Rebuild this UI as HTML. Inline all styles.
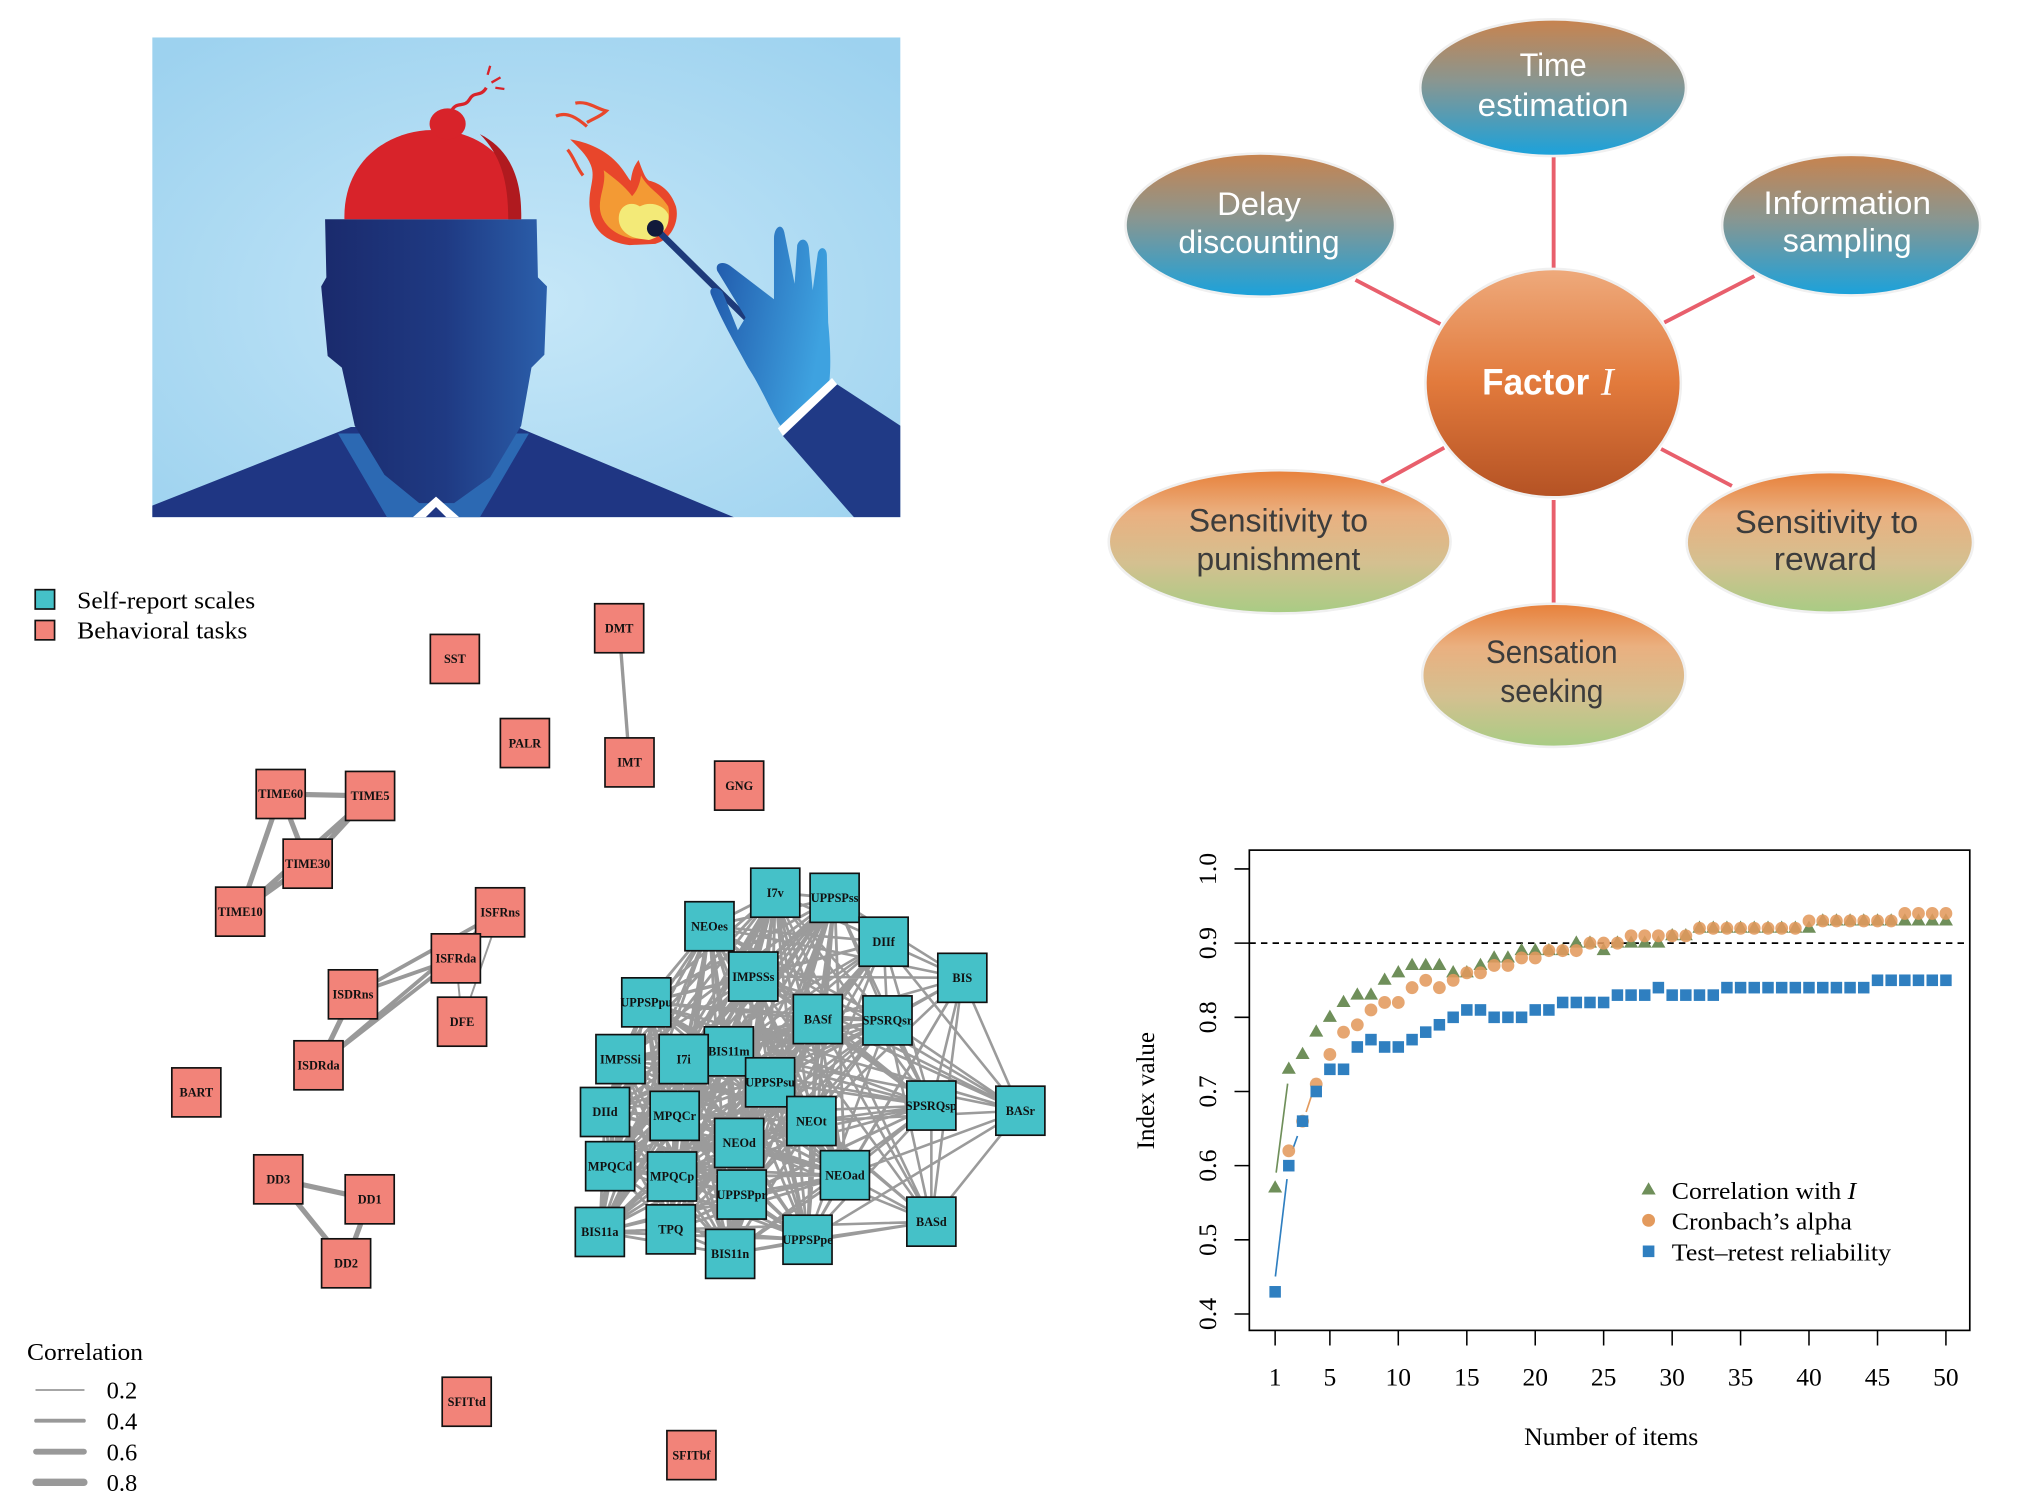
<!DOCTYPE html>
<html><head><meta charset="utf-8"><style>html,body{margin:0;padding:0;background:#fff}svg{display:block}
.r{fill:#f28379;stroke:#111;stroke-width:1.3}.c{fill:#45c1c8;stroke:#111;stroke-width:1.3}
.nl{font-family:"Liberation Serif",serif;font-weight:bold;font-size:9.5px;fill:#111;text-anchor:middle}
.sf{font-family:"Liberation Serif",serif;fill:#000}
.cal{font-family:"Liberation Sans",sans-serif;text-anchor:middle}
</style></head><body>
<svg width="2017" height="1499" viewBox="0 0 1563.6 1162" preserveAspectRatio="none" xmlns="http://www.w3.org/2000/svg">
<defs>
<radialGradient id="bg" cx="0.5" cy="0.55" r="0.7"><stop offset="0" stop-color="#c6e7f8"/><stop offset="1" stop-color="#9dd2ef"/></radialGradient>
<linearGradient id="face" x1="0" y1="0" x2="1" y2="0"><stop offset="0" stop-color="#1a2a6c"/><stop offset="0.55" stop-color="#1f3a83"/><stop offset="1" stop-color="#2b5fab"/></linearGradient>
<linearGradient id="glove" x1="0" y1="0" x2="1" y2="0.3"><stop offset="0" stop-color="#1f55a8"/><stop offset="1" stop-color="#3ea2e0"/></linearGradient>
<linearGradient id="gb" x1="0" y1="0" x2="0" y2="1"><stop offset="0" stop-color="#c8834e"/><stop offset="0.45" stop-color="#8a9690"/><stop offset="1" stop-color="#1aa2dc"/></linearGradient>
<linearGradient id="gf" x1="0" y1="0" x2="0" y2="1"><stop offset="0" stop-color="#eeaa7c"/><stop offset="0.5" stop-color="#e27a3c"/><stop offset="1" stop-color="#b45224"/></linearGradient>
<linearGradient id="gg" x1="0" y1="0" x2="0" y2="1"><stop offset="0" stop-color="#e8803a"/><stop offset="0.3" stop-color="#eab080"/><stop offset="0.65" stop-color="#d4c090"/><stop offset="1" stop-color="#a8cc84"/></linearGradient>
<clipPath id="pc"><rect x="118" y="29" width="580" height="372"/></clipPath>
</defs>

<!-- Picture -->
<g clip-path="url(#pc)">
<rect x="118" y="29" width="580" height="372" fill="url(#bg)"/>
<polygon points="118,401 118,392 272,331 401,331 569,401" fill="#1f3683"/>
<polygon points="262,336 300,401 372,401 410,336" fill="#2c69b3"/>
<path d="M252 170 L416 170 L417 215 L424 222 L422 275 L412 285 L404 330 L380 370 L352 390 L325 390 L298 368 L275 330 L265 285 L254 276 L249 222 L253 215 Z" fill="url(#face)"/>
<polygon points="320,401 338,385 356,401" fill="#fff"/>
<polygon points="330,401 338,393 346,401" fill="#1f3683"/>
<path d="M267 170 C266 128 296 104 330 101 C372 98 404 126 404 170 Z" fill="#d8232a"/>
<path d="M372 104 C396 116 405 140 404 170 L394 170 C394 140 388 120 372 104 Z" fill="#b01a1f"/>
<ellipse cx="347" cy="96" rx="14" ry="12" fill="#d8232a"/>
<path d="M350 86 C354 78 360 84 364 77 C368 70 372 76 377 68" stroke="#d8232a" stroke-width="2.5" fill="none"/>
<path d="M381 64 L388 60 M378 58 L380 51 M384 68 L391 69" stroke="#d8232a" stroke-width="1.8"/>
<path d="M488 190 C470 188 458 178 457 160 C456 146 462 138 458 128 C455 120 448 114 442 108 C455 110 470 116 480 128 C485 134 488 140 489 140 C490 132 492 128 495 124 C498 132 500 138 503 140 C512 142 520 148 524 160 C527 172 520 186 508 189 Z" fill="#e8462b"/>
<path d="M490 185 C475 182 465 172 465 160 C465 150 470 142 468 132 C476 138 484 144 490 152 C494 148 496 142 497 136 C502 146 512 150 518 160 C521 172 514 182 505 185 Z" fill="#f39a34"/>
<path d="M495 185 C485 183 478 176 480 166 C482 158 490 156 496 160 C503 156 514 158 518 166 C520 176 512 184 503 186 Z" fill="#f3ea78"/>
<path d="M431 90 C440 86 448 92 455 98 M446 80 C455 78 462 84 470 86 C466 90 460 92 455 95 M440 116 C445 122 447 130 452 136" stroke="#e8462b" stroke-width="2.5" fill="none"/>
<line x1="508" y1="177" x2="579" y2="247" stroke="#1d3a7a" stroke-width="5"/>
<circle cx="508" cy="177" r="6.5" fill="#111a3a"/>
<path d="M551 228 C549 222 556 222 560 226 L572 256 L578 246 L556 210 C554 204 560 202 566 206 L600 232 L600 185 C600 176 606 172 608 180 L616 220 L618 190 C620 184 626 184 627 192 L630 225 L634 196 C636 190 641 192 641 198 L642 250 C644 270 644 285 643 295 L605 330 C598 320 590 300 580 285 C572 270 560 250 551 228 Z" fill="url(#glove)"/>
<polygon points="603,332 645,293 649,298 607,338" fill="#fff"/>
<polygon points="607,338 649,298 698,330 698,401 662,401" fill="#203a86"/>
</g>

<!-- Factor diagram -->
<g stroke="#e85f6c" stroke-width="3">
<line x1="1204.4" y1="120" x2="1204.4" y2="209"/>
<line x1="1050.8" y1="217" x2="1116.6" y2="251.2"/>
<line x1="1360" y1="214" x2="1290.2" y2="250"/>
<line x1="1070.7" y1="374" x2="1119.6" y2="347"/>
<line x1="1342.6" y1="376.7" x2="1287.7" y2="348"/>
<line x1="1204.4" y1="387.6" x2="1204.4" y2="468"/>
</g>
<g stroke="#f0f0f0" stroke-width="2">
<ellipse cx="1204" cy="68" rx="103" ry="53" fill="url(#gb)"/>
<ellipse cx="977" cy="174.5" rx="104.5" ry="55.5" fill="url(#gb)"/>
<ellipse cx="1435" cy="174.5" rx="100" ry="54.5" fill="url(#gb)"/>
<ellipse cx="1204" cy="297" rx="99" ry="88.5" fill="url(#gf)"/>
<ellipse cx="992" cy="420" rx="132.5" ry="55.5" fill="url(#gg)"/>
<ellipse cx="1418.5" cy="420.5" rx="111" ry="54.5" fill="url(#gg)"/>
<ellipse cx="1204.5" cy="523.5" rx="102" ry="55.5" fill="url(#gg)"/>
</g>
<g class="cal" font-size="25" fill="#fff">
<text x="1204" y="59" textLength="52" lengthAdjust="spacingAndGlyphs">Time</text>
<text x="1204" y="90" textLength="117" lengthAdjust="spacingAndGlyphs">estimation</text>
<text x="976" y="166.5" textLength="65" lengthAdjust="spacingAndGlyphs">Delay</text>
<text x="976" y="196" textLength="125" lengthAdjust="spacingAndGlyphs">discounting</text>
<text x="1432" y="166" textLength="130" lengthAdjust="spacingAndGlyphs">Information</text>
<text x="1432" y="195" textLength="100" lengthAdjust="spacingAndGlyphs">sampling</text>
</g>
<g class="cal" font-size="25" fill="#3c3c3c">
<text x="991" y="412" textLength="139" lengthAdjust="spacingAndGlyphs">Sensitivity to</text>
<text x="991" y="442" textLength="127" lengthAdjust="spacingAndGlyphs">punishment</text>
<text x="1416" y="413" textLength="142" lengthAdjust="spacingAndGlyphs">Sensitivity to</text>
<text x="1415" y="442" textLength="80" lengthAdjust="spacingAndGlyphs">reward</text>
<text x="1203" y="514" textLength="102" lengthAdjust="spacingAndGlyphs">Sensation</text>
<text x="1203" y="544" textLength="80" lengthAdjust="spacingAndGlyphs">seeking</text>
</g>
<text x="1149" y="306" font-family="Liberation Sans, sans-serif" font-weight="bold" font-size="29" fill="#fff" textLength="83" lengthAdjust="spacingAndGlyphs">Factor</text>
<text x="1241" y="306" font-family="Liberation Serif, serif" font-style="italic" font-size="30" fill="#fff">I</text>

<!-- Network legend -->
<rect x="27.3" y="457.1" width="15" height="15" class="c"/>
<rect x="27.3" y="481" width="15" height="15" class="r"/>
<text x="59.8" y="471.6" class="sf" font-size="19" textLength="138" lengthAdjust="spacingAndGlyphs">Self-report scales</text>
<text x="59.8" y="495" class="sf" font-size="19" textLength="132" lengthAdjust="spacingAndGlyphs">Behavioral tasks</text>
<text x="20.9" y="1054.3" class="sf" font-size="19" textLength="90" lengthAdjust="spacingAndGlyphs">Correlation</text>
<g stroke="#999" stroke-linecap="round">
<line x1="28" y1="1077.5" x2="65" y2="1077.5" stroke-width="1.3"/>
<line x1="28" y1="1101.3" x2="65" y2="1101.3" stroke-width="3"/>
<line x1="28" y1="1125.3" x2="65" y2="1125.3" stroke-width="4.6"/>
<line x1="28" y1="1149.1" x2="65" y2="1149.1" stroke-width="5.7"/>
</g>
<g class="sf" font-size="19">
<text x="82.7" y="1084">0.2</text><text x="82.7" y="1108">0.4</text><text x="82.7" y="1132">0.6</text><text x="82.7" y="1156">0.8</text>
</g>

<!-- Network edges (behavioral) -->
<g stroke="#999" fill="none">
<path stroke-width="4" d="M217.6 615.5L286.9 617M217.6 615.5L238.5 669.5M217.6 615.5L186.2 706.7M286.9 617L238.5 669.5M186.2 706.7L238.5 669.5M186.2 706.7L286.9 617"/>
<path stroke-width="3" d="M387.7 707.2L273.6 770.8M353.4 742.9L273.6 770.8M387.7 707.2L246.9 825.8M353.4 742.9L246.9 825.8M387.7 707.2L353.4 742.9"/>
<path stroke-width="4" d="M273.6 770.8L246.9 825.8M215.7 914.2L286.6 929.7M215.7 914.2L268.3 979.3M286.6 929.7L268.3 979.3"/>
<path stroke-width="1.5" d="M353.4 742.9L358.2 792M387.7 707.2L358.2 792"/>
<path stroke-width="2.6" d="M480 487L488 591"/>
</g>
<!-- Network edges (self-report) -->
<g stroke="#9b9b9b" fill="none" stroke-width="2.2">
<path d="M601 692L647 696M601 692L550 718M601 692L584 757M601 692L501 777M601 692L634 790M601 692L481 821M601 692L530 821M601 692L565 815M601 692L597 839M601 692L469 862M601 692L523 865M601 692L629 869M601 692L573 886M601 692L473 904M601 692L521 912M601 692L655 911M601 692L575 926M601 692L465 955M601 692L520 953M601 692L626 961M601 692L566 972
M647 696L550 718M647 696L584 757M647 696L501 777M647 696L634 790M647 696L481 821M647 696L530 821M647 696L565 815M647 696L597 839M647 696L469 862M647 696L523 865M647 696L629 869M647 696L573 886M647 696L473 904M647 696L521 912M647 696L655 911M647 696L575 926M647 696L465 955M647 696L520 953M647 696L626 961M647 696L566 972
M550 718L584 757M550 718L501 777M550 718L634 790M550 718L481 821M550 718L530 821M550 718L565 815M550 718L597 839M550 718L469 862M550 718L523 865M550 718L629 869M550 718L573 886M550 718L473 904M550 718L521 912M550 718L655 911M550 718L575 926M550 718L465 955M550 718L520 953M550 718L626 961M550 718L566 972
M584 757L501 777M584 757L634 790M584 757L481 821M584 757L530 821M584 757L565 815M584 757L597 839M584 757L469 862M584 757L523 865M584 757L629 869M584 757L573 886M584 757L473 904M584 757L521 912M584 757L655 911M584 757L575 926M584 757L465 955M584 757L520 953M584 757L626 961M584 757L566 972
M501 777L634 790M501 777L481 821M501 777L530 821M501 777L565 815M501 777L597 839M501 777L469 862M501 777L523 865M501 777L629 869M501 777L573 886M501 777L473 904M501 777L521 912M501 777L655 911M501 777L575 926M501 777L465 955M501 777L520 953M501 777L626 961M501 777L566 972
M634 790L481 821M634 790L530 821M634 790L565 815M634 790L597 839M634 790L469 862M634 790L523 865M634 790L629 869M634 790L573 886M634 790L473 904M634 790L521 912M634 790L655 911M634 790L575 926M634 790L465 955M634 790L520 953M634 790L626 961M634 790L566 972
M481 821L530 821M481 821L565 815M481 821L597 839M481 821L469 862M481 821L523 865M481 821L629 869M481 821L573 886M481 821L473 904M481 821L521 912M481 821L655 911M481 821L575 926M481 821L465 955M481 821L520 953M481 821L626 961M481 821L566 972
M530 821L565 815M530 821L597 839M530 821L469 862M530 821L523 865M530 821L629 869M530 821L573 886M530 821L473 904M530 821L521 912M530 821L655 911M530 821L575 926M530 821L465 955M530 821L520 953M530 821L626 961M530 821L566 972
M565 815L597 839M565 815L469 862M565 815L523 865M565 815L629 869M565 815L573 886M565 815L473 904M565 815L521 912M565 815L655 911M565 815L575 926M565 815L465 955M565 815L520 953M565 815L626 961M565 815L566 972
M597 839L469 862M597 839L523 865M597 839L629 869M597 839L573 886M597 839L473 904M597 839L521 912M597 839L655 911M597 839L575 926M597 839L465 955M597 839L520 953M597 839L626 961M597 839L566 972
M469 862L523 865M469 862L629 869M469 862L573 886M469 862L473 904M469 862L521 912M469 862L655 911M469 862L575 926M469 862L465 955M469 862L520 953M469 862L626 961M469 862L566 972
M523 865L629 869M523 865L573 886M523 865L473 904M523 865L521 912M523 865L655 911M523 865L575 926M523 865L465 955M523 865L520 953M523 865L626 961M523 865L566 972
M629 869L573 886M629 869L473 904M629 869L521 912M629 869L655 911M629 869L575 926M629 869L465 955M629 869L520 953M629 869L626 961M629 869L566 972
M573 886L473 904M573 886L521 912M573 886L655 911M573 886L575 926M573 886L465 955M573 886L520 953M573 886L626 961M573 886L566 972
M473 904L521 912M473 904L655 911M473 904L575 926M473 904L465 955M473 904L520 953M473 904L626 961M473 904L566 972
M521 912L655 911M521 912L575 926M521 912L465 955M521 912L520 953M521 912L626 961M521 912L566 972
M655 911L575 926M655 911L465 955M655 911L520 953M655 911L626 961M655 911L566 972
M575 926L465 955M575 926L520 953M575 926L626 961M575 926L566 972
M465 955L520 953M465 955L626 961M465 955L566 972M520 953L626 961M520 953L566 972M626 961L566 972"/>
<path stroke-width="2" d="M685 730L601 692M685 730L647 696M685 730L550 718M685 730L584 757M685 730L501 777M685 730L634 790M685 730L530 821M685 730L565 815M685 730L597 839M685 730L523 865M685 730L629 869M685 730L573 886M685 730L521 912M685 730L575 926M685 730L520 953M685 730L688 791M685 730L722 857M685 730L746 758M685 730L791 861
M688 791L601 692M688 791L647 696M688 791L550 718M688 791L584 757M688 791L501 777M688 791L634 790M688 791L481 821M688 791L530 821M688 791L565 815M688 791L597 839M688 791L469 862M688 791L523 865M688 791L629 869M688 791L573 886M688 791L521 912M688 791L575 926M688 791L520 953M688 791L626 961M688 791L722 857M688 791L746 758M688 791L791 861M688 791L722 947
M722 857L601 692M722 857L647 696M722 857L550 718M722 857L584 757M722 857L501 777M722 857L634 790M722 857L530 821M722 857L565 815M722 857L597 839M722 857L523 865M722 857L629 869M722 857L573 886M722 857L521 912M722 857L655 911M722 857L575 926M722 857L520 953M722 857L626 961M722 857L566 972M722 857L746 758M722 857L722 947
M746 758L647 696M746 758L584 757M746 758L634 790M746 758L597 839M746 758L629 869M746 758L655 911M746 758L626 961M746 758L791 861M746 758L722 947M746 758L550 718
M791 861L550 718M791 861L584 757M791 861L634 790M791 861L565 815M791 861L629 869M791 861L655 911M791 861L626 961M791 861L722 947M791 861L501 777
M722 947L601 692M722 947L584 757M722 947L634 790M722 947L565 815M722 947L597 839M722 947L629 869M722 947L573 886M722 947L655 911M722 947L520 953M722 947L626 961M722 947L566 972"/>
</g>

<!-- Behavioral nodes -->
<g>
<rect x="333.6" y="491.8" width="38" height="38" class="r"/><text x="352.6" y="514.1" class="nl">SST</text>
<rect x="461" y="468" width="38" height="38" class="r"/><text x="480" y="490.3" class="nl">DMT</text>
<rect x="387.9" y="557" width="38" height="38" class="r"/><text x="406.9" y="579.3" class="nl">PALR</text>
<rect x="469" y="572" width="38" height="38" class="r"/><text x="488" y="594.3" class="nl">IMT</text>
<rect x="554" y="590" width="38" height="38" class="r"/><text x="573" y="612.3" class="nl">GNG</text>
<rect x="198.6" y="596.5" width="38" height="38" class="r"/><text x="217.6" y="618.8" class="nl">TIME60</text>
<rect x="267.9" y="598" width="38" height="38" class="r"/><text x="286.9" y="620.3" class="nl">TIME5</text>
<rect x="219.5" y="650.5" width="38" height="38" class="r"/><text x="238.5" y="672.8" class="nl">TIME30</text>
<rect x="167.2" y="687.7" width="38" height="38" class="r"/><text x="186.2" y="710" class="nl">TIME10</text>
<rect x="368.7" y="688.2" width="38" height="38" class="r"/><text x="387.7" y="710.5" class="nl">ISFRns</text>
<rect x="334.4" y="723.9" width="38" height="38" class="r"/><text x="353.4" y="746.2" class="nl">ISFRda</text>
<rect x="254.6" y="751.8" width="38" height="38" class="r"/><text x="273.6" y="774.1" class="nl">ISDRns</text>
<rect x="339.2" y="773" width="38" height="38" class="r"/><text x="358.2" y="795.3" class="nl">DFE</text>
<rect x="227.9" y="806.8" width="38" height="38" class="r"/><text x="246.9" y="829.1" class="nl">ISDRda</text>
<rect x="133.2" y="827.8" width="38" height="38" class="r"/><text x="152.2" y="850.1" class="nl">BART</text>
<rect x="196.7" y="895.2" width="38" height="38" class="r"/><text x="215.7" y="917.5" class="nl">DD3</text>
<rect x="267.6" y="910.7" width="38" height="38" class="r"/><text x="286.6" y="933" class="nl">DD1</text>
<rect x="249.3" y="960.3" width="38" height="38" class="r"/><text x="268.3" y="982.6" class="nl">DD2</text>
<rect x="342.8" y="1067.6" width="38" height="38" class="r"/><text x="361.8" y="1089.9" class="nl">SFITtd</text>
<rect x="517" y="1109" width="38" height="38" class="r"/><text x="536" y="1131.3" class="nl">SFITbf</text>
</g>
<!-- Self-report nodes -->
<g>
<rect x="582" y="673" width="38" height="38" class="c"/><text x="601" y="695.3" class="nl">I7v</text>
<rect x="628" y="677" width="38" height="38" class="c"/><text x="647" y="699.3" class="nl">UPPSPss</text>
<rect x="531" y="699" width="38" height="38" class="c"/><text x="550" y="721.3" class="nl">NEOes</text>
<rect x="666" y="711" width="38" height="38" class="c"/><text x="685" y="733.3" class="nl">DIIf</text>
<rect x="727" y="739" width="38" height="38" class="c"/><text x="746" y="761.3" class="nl">BIS</text>
<rect x="565" y="738" width="38" height="38" class="c"/><text x="584" y="760.3" class="nl">IMPSSs</text>
<rect x="482" y="758" width="38" height="38" class="c"/><text x="501" y="780.3" class="nl">UPPSPpu</text>
<rect x="615" y="771" width="38" height="38" class="c"/><text x="634" y="793.3" class="nl">BASf</text>
<rect x="669" y="772" width="38" height="38" class="c"/><text x="688" y="794.3" class="nl">SPSRQsr</text>
<rect x="462" y="802" width="38" height="38" class="c"/><text x="481" y="824.3" class="nl">IMPSSi</text>
<rect x="546" y="796" width="38" height="38" class="c"/><text x="565" y="818.3" class="nl">BIS11m</text>
<rect x="511" y="802" width="38" height="38" class="c"/><text x="530" y="824.3" class="nl">I7i</text>
<rect x="578" y="820" width="38" height="38" class="c"/><text x="597" y="842.3" class="nl">UPPSPsu</text>
<rect x="450" y="843" width="38" height="38" class="c"/><text x="469" y="865.3" class="nl">DIId</text>
<rect x="504" y="846" width="38" height="38" class="c"/><text x="523" y="868.3" class="nl">MPQCr</text>
<rect x="610" y="850" width="38" height="38" class="c"/><text x="629" y="872.3" class="nl">NEOt</text>
<rect x="703" y="838" width="38" height="38" class="c"/><text x="722" y="860.3" class="nl">SPSRQsp</text>
<rect x="772" y="842" width="38" height="38" class="c"/><text x="791" y="864.3" class="nl">BASr</text>
<rect x="554" y="867" width="38" height="38" class="c"/><text x="573" y="889.3" class="nl">NEOd</text>
<rect x="454" y="885" width="38" height="38" class="c"/><text x="473" y="907.3" class="nl">MPQCd</text>
<rect x="502" y="893" width="38" height="38" class="c"/><text x="521" y="915.3" class="nl">MPQCp</text>
<rect x="636" y="892" width="38" height="38" class="c"/><text x="655" y="914.3" class="nl">NEOad</text>
<rect x="556" y="907" width="38" height="38" class="c"/><text x="575" y="929.3" class="nl">UPPSPpr</text>
<rect x="703" y="928" width="38" height="38" class="c"/><text x="722" y="950.3" class="nl">BASd</text>
<rect x="446" y="936" width="38" height="38" class="c"/><text x="465" y="958.3" class="nl">BIS11a</text>
<rect x="501" y="934" width="38" height="38" class="c"/><text x="520" y="956.3" class="nl">TPQ</text>
<rect x="607" y="942" width="38" height="38" class="c"/><text x="626" y="964.3" class="nl">UPPSPpe</text>
<rect x="547" y="953" width="38" height="38" class="c"/><text x="566" y="975.3" class="nl">BIS11n</text>
</g>

<!-- Chart -->
<line x1="968.5" y1="731.1" x2="1527" y2="731.1" stroke="#000" stroke-width="1.3" stroke-dasharray="5 4"/>
<rect x="968.5" y="659" width="558.5" height="372.3" fill="none" stroke="#000" stroke-width="1.3"/>
<path d="M957 1018.6H968.5M957 961.1H968.5M957 903.6H968.5M957 846.1H968.5M957 788.6H968.5M957 731.1H968.5M957 673.6H968.5" stroke="#000" stroke-width="1.2"/>
<g class="sf" font-size="20" text-anchor="middle">
<text transform="translate(942.5 1018.6) rotate(-90)">0.4</text>
<text transform="translate(942.5 961.1) rotate(-90)">0.5</text>
<text transform="translate(942.5 903.6) rotate(-90)">0.6</text>
<text transform="translate(942.5 846.1) rotate(-90)">0.7</text>
<text transform="translate(942.5 788.6) rotate(-90)">0.8</text>
<text transform="translate(942.5 731.1) rotate(-90)">0.9</text>
<text transform="translate(942.5 673.6) rotate(-90)">1.0</text>
<text transform="translate(894.5 845.5) rotate(-90)" textLength="91" lengthAdjust="spacingAndGlyphs">Index value</text>
<text x="1249" y="1120" textLength="135" lengthAdjust="spacingAndGlyphs">Number of items</text>
</g>
<g transform="matrix(0.98935 0 0 1 8.35 0)">
<path stroke="#000" stroke-width="1.2" d="M990.7 1031.3V1043M1033.6 1031.3V1043M1087.2 1031.3V1043M1140.9 1031.3V1043M1194.5 1031.3V1043M1248.1 1031.3V1043M1301.8 1031.3V1043M1355.4 1031.3V1043M1409 1031.3V1043M1462.7 1031.3V1043M1516.3 1031.3V1043"/>
<g class="sf" font-size="20" text-anchor="middle">
<text x="990.7" y="1074">1</text><text x="1033.6" y="1074">5</text><text x="1087.2" y="1074">10</text><text x="1140.9" y="1074">15</text><text x="1194.5" y="1074">20</text><text x="1248.1" y="1074">25</text><text x="1301.8" y="1074">30</text><text x="1355.4" y="1074">35</text><text x="1409" y="1074">40</text><text x="1462.7" y="1074">45</text><text x="1516.3" y="1074">50</text>
</g>
<g stroke-width="1.3" fill="none">
<line x1="991.5" y1="909" x2="1000.5" y2="840" stroke="#6f8f5a"/>
<line x1="990.9" y1="989.5" x2="1000" y2="914" stroke="#2f7fc0"/>
<line x1="1004.6" y1="890.6" x2="1008.2" y2="880.6" stroke="#2f7fc0"/>
<line x1="1015" y1="862" x2="1019" y2="850" stroke="#e39a5d"/>
</g>
<!-- green triangles -->
<g fill="#6f8f5a">
<path d="M990.7 914.9l5.5 9.5h-11zM1001.4 822.9l5.5 9.5h-11zM1012.2 811.4l5.5 9.5h-11zM1022.9 794.1l5.5 9.5h-11zM1033.6 782.6l5.5 9.5h-11zM1044.3 771.1l5.5 9.5h-11zM1055.1 765.4l5.5 9.5h-11zM1065.8 765.4l5.5 9.5h-11zM1076.5 753.9l5.5 9.5h-11zM1087.2 748.1l5.5 9.5h-11zM1098 742.4l5.5 9.5h-11zM1108.7 742.4l5.5 9.5h-11zM1119.4 742.4l5.5 9.5h-11zM1130.2 748.1l5.5 9.5h-11zM1140.9 748.1l5.5 9.5h-11zM1151.6 742.4l5.5 9.5h-11zM1162.3 736.6l5.5 9.5h-11zM1173.1 736.6l5.5 9.5h-11zM1183.8 730.9l5.5 9.5h-11zM1194.5 730.9l5.5 9.5h-11zM1205.2 730.9l5.5 9.5h-11zM1216 730.9l5.5 9.5h-11zM1226.7 725.1l5.5 9.5h-11zM1237.4 725.1l5.5 9.5h-11zM1248.1 730.9l5.5 9.5h-11zM1258.9 725.1l5.5 9.5h-11zM1269.6 725.1l5.5 9.5h-11zM1280.3 725.1l5.5 9.5h-11zM1291 725.1l5.5 9.5h-11zM1301.8 719.4l5.5 9.5h-11zM1312.5 719.4l5.5 9.5h-11zM1323.2 713.6l5.5 9.5h-11zM1334 713.6l5.5 9.5h-11zM1344.7 713.6l5.5 9.5h-11zM1355.4 713.6l5.5 9.5h-11zM1366.1 713.6l5.5 9.5h-11zM1376.9 713.6l5.5 9.5h-11zM1387.6 713.6l5.5 9.5h-11zM1398.3 713.6l5.5 9.5h-11zM1409 713.6l5.5 9.5h-11zM1419.8 707.9l5.5 9.5h-11zM1430.5 707.9l5.5 9.5h-11zM1441.2 707.9l5.5 9.5h-11zM1451.9 707.9l5.5 9.5h-11zM1462.7 707.9l5.5 9.5h-11zM1473.4 707.9l5.5 9.5h-11zM1484.1 707.9l5.5 9.5h-11zM1494.8 707.9l5.5 9.5h-11zM1505.6 707.9l5.5 9.5h-11zM1516.3 707.9l5.5 9.5h-11z"/>
</g>
<!-- orange circles -->
<g fill="#e39a5d" fill-opacity="0.88">
<circle cx="1001.4" cy="892.1" r="5"/><circle cx="1012.2" cy="869.1" r="5"/><circle cx="1022.9" cy="840.4" r="5"/><circle cx="1033.6" cy="817.4" r="5"/><circle cx="1044.3" cy="800.1" r="5"/><circle cx="1055.1" cy="794.4" r="5"/><circle cx="1065.8" cy="782.9" r="5"/><circle cx="1076.5" cy="777.1" r="5"/><circle cx="1087.2" cy="777.1" r="5"/><circle cx="1098" cy="765.6" r="5"/><circle cx="1108.7" cy="759.9" r="5"/><circle cx="1119.4" cy="765.6" r="5"/><circle cx="1130.2" cy="759.9" r="5"/><circle cx="1140.9" cy="754.1" r="5"/><circle cx="1151.6" cy="754.1" r="5"/><circle cx="1162.3" cy="748.4" r="5"/><circle cx="1173.1" cy="748.4" r="5"/><circle cx="1183.8" cy="742.6" r="5"/><circle cx="1194.5" cy="742.6" r="5"/><circle cx="1205.2" cy="736.9" r="5"/><circle cx="1216" cy="736.9" r="5"/><circle cx="1226.7" cy="736.9" r="5"/><circle cx="1237.4" cy="731.1" r="5"/><circle cx="1248.1" cy="731.1" r="5"/><circle cx="1258.9" cy="731.1" r="5"/><circle cx="1269.6" cy="725.4" r="5"/><circle cx="1280.3" cy="725.4" r="5"/><circle cx="1291" cy="725.4" r="5"/><circle cx="1301.8" cy="725.4" r="5"/><circle cx="1312.5" cy="725.4" r="5"/><circle cx="1323.2" cy="719.6" r="5"/><circle cx="1334" cy="719.6" r="5"/><circle cx="1344.7" cy="719.6" r="5"/><circle cx="1355.4" cy="719.6" r="5"/><circle cx="1366.1" cy="719.6" r="5"/><circle cx="1376.9" cy="719.6" r="5"/><circle cx="1387.6" cy="719.6" r="5"/><circle cx="1398.3" cy="719.6" r="5"/><circle cx="1409" cy="713.9" r="5"/><circle cx="1419.8" cy="713.9" r="5"/><circle cx="1430.5" cy="713.9" r="5"/><circle cx="1441.2" cy="713.9" r="5"/><circle cx="1451.9" cy="713.9" r="5"/><circle cx="1462.7" cy="713.9" r="5"/><circle cx="1473.4" cy="713.9" r="5"/><circle cx="1484.1" cy="708.1" r="5"/><circle cx="1494.8" cy="708.1" r="5"/><circle cx="1505.6" cy="708.1" r="5"/><circle cx="1516.3" cy="708.1" r="5"/>
</g>
<!-- blue squares -->
<g fill="#2f7fc0">
<rect x="986.2" y="996.9" width="9" height="9"/><rect x="996.9" y="899.1" width="9" height="9"/><rect x="1007.7" y="864.6" width="9" height="9"/><rect x="1018.4" y="841.6" width="9" height="9"/><rect x="1029.1" y="824.4" width="9" height="9"/><rect x="1039.8" y="824.4" width="9" height="9"/><rect x="1050.6" y="807.1" width="9" height="9"/><rect x="1061.3" y="801.4" width="9" height="9"/><rect x="1072" y="807.1" width="9" height="9"/><rect x="1082.7" y="807.1" width="9" height="9"/><rect x="1093.5" y="801.4" width="9" height="9"/><rect x="1104.2" y="795.6" width="9" height="9"/><rect x="1114.9" y="789.9" width="9" height="9"/><rect x="1125.7" y="784.1" width="9" height="9"/><rect x="1136.4" y="778.4" width="9" height="9"/><rect x="1147.1" y="778.4" width="9" height="9"/><rect x="1157.8" y="784.1" width="9" height="9"/><rect x="1168.6" y="784.1" width="9" height="9"/><rect x="1179.3" y="784.1" width="9" height="9"/><rect x="1190" y="778.4" width="9" height="9"/><rect x="1200.7" y="778.4" width="9" height="9"/><rect x="1211.5" y="772.6" width="9" height="9"/><rect x="1222.2" y="772.6" width="9" height="9"/><rect x="1232.9" y="772.6" width="9" height="9"/><rect x="1243.6" y="772.6" width="9" height="9"/><rect x="1254.4" y="766.9" width="9" height="9"/><rect x="1265.1" y="766.9" width="9" height="9"/><rect x="1275.8" y="766.9" width="9" height="9"/><rect x="1286.5" y="761.1" width="9" height="9"/><rect x="1297.3" y="766.9" width="9" height="9"/><rect x="1308" y="766.9" width="9" height="9"/><rect x="1318.7" y="766.9" width="9" height="9"/><rect x="1329.5" y="766.9" width="9" height="9"/><rect x="1340.2" y="761.1" width="9" height="9"/><rect x="1350.9" y="761.1" width="9" height="9"/><rect x="1361.6" y="761.1" width="9" height="9"/><rect x="1372.4" y="761.1" width="9" height="9"/><rect x="1383.1" y="761.1" width="9" height="9"/><rect x="1393.8" y="761.1" width="9" height="9"/><rect x="1404.5" y="761.1" width="9" height="9"/><rect x="1415.3" y="761.1" width="9" height="9"/><rect x="1426" y="761.1" width="9" height="9"/><rect x="1436.7" y="761.1" width="9" height="9"/><rect x="1447.4" y="761.1" width="9" height="9"/><rect x="1458.2" y="755.4" width="9" height="9"/><rect x="1468.9" y="755.4" width="9" height="9"/><rect x="1479.6" y="755.4" width="9" height="9"/><rect x="1490.3" y="755.4" width="9" height="9"/><rect x="1501.1" y="755.4" width="9" height="9"/><rect x="1511.8" y="755.4" width="9" height="9"/>
</g>
</g>
<!-- chart legend -->
<path d="M1278 916.5l5.5 9.5h-11z" fill="#6f8f5a"/>
<circle cx="1278" cy="946" r="5" fill="#e39a5d"/>
<rect x="1273.5" y="965.5" width="9" height="9" fill="#2f7fc0"/>
<g class="sf" font-size="19">
<text x="1296" y="929.5" textLength="143" lengthAdjust="spacingAndGlyphs">Correlation with <tspan font-style="italic">I</tspan></text>
<text x="1296" y="953" textLength="139.6" lengthAdjust="spacingAndGlyphs">Cronbach’s alpha</text>
<text x="1296" y="977" textLength="170" lengthAdjust="spacingAndGlyphs">Test–retest reliability</text>
</g>
</svg>
</body></html>
